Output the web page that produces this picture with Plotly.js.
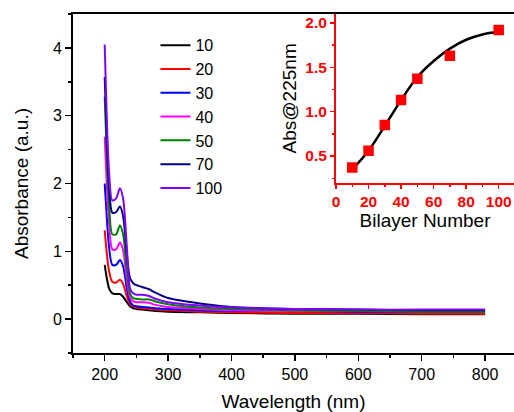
<!DOCTYPE html>
<html><head><meta charset="utf-8">
<script src="https://cdn.plot.ly/plotly-3.0.1.min.js"></script>
<style>html,body{margin:0;padding:0;background:#fff}#g{width:514px;height:412px}</style>
</head><body><div id="g"></div>
<script>
const wavelength = [200,203,207,212,218,224,229,235,240,245,250,260,270,280,300,350,400,500,600,700,800];
const abs10  = [0.80,0.62,0.45,0.38,0.37,0.37,0.33,0.25,0.19,0.16,0.15,0.14,0.13,0.12,0.11,0.10,0.09,0.08,0.08,0.07,0.07];
const abs20  = [1.31,1.00,0.70,0.55,0.54,0.58,0.52,0.33,0.22,0.18,0.17,0.16,0.15,0.14,0.13,0.11,0.10,0.09,0.09,0.08,0.08];
const abs30  = [2.00,1.55,1.05,0.80,0.80,0.87,0.78,0.45,0.26,0.20,0.19,0.18,0.17,0.16,0.15,0.13,0.12,0.12,0.11,0.11,0.11];
const abs40  = [2.69,2.05,1.40,1.03,1.03,1.13,1.02,0.58,0.32,0.26,0.25,0.25,0.24,0.21,0.18,0.15,0.13,0.12,0.12,0.12,0.12];
const abs50  = [3.28,2.50,1.70,1.25,1.25,1.38,1.25,0.72,0.38,0.31,0.30,0.29,0.29,0.26,0.22,0.17,0.15,0.13,0.12,0.11,0.11];
const abs70  = [3.57,2.75,1.95,1.57,1.58,1.66,1.52,0.95,0.60,0.53,0.50,0.47,0.44,0.39,0.31,0.23,0.18,0.15,0.14,0.13,0.13];
const abs100 = [4.05,3.05,2.15,1.75,1.78,1.93,1.78,1.05,0.45,0.38,0.36,0.36,0.34,0.30,0.25,0.20,0.17,0.15,0.14,0.14,0.14];
const seriesNames = ['10','20','30','40','50','70','100'];
const seriesColors = ['#000000','#ff0000','#0000ff','#ff00ff','#008000','#000080','#8000ff'];
const seriesData = [abs10,abs20,abs30,abs40,abs50,abs70,abs100];

const bilayer = [10,20,30,40,50,70,100];
const abs225 = [0.37,0.56,0.85,1.13,1.37,1.63,1.92];
const fitX = [10,20,30,40,50,60,70,80,90,100];
const fitY = [0.35,0.56,0.84,1.13,1.39,1.57,1.71,1.81,1.87,1.90];

const traces = seriesData.map((d,i)=>({
  x: wavelength, y: d, type:'scatter', mode:'lines', name: seriesNames[i],
  line:{color:seriesColors[i], width:2, shape:'spline', smoothing:0.8},
  xaxis:'x', yaxis:'y'
}));
traces.push({x:fitX, y:fitY, type:'scatter', mode:'lines', showlegend:false,
  line:{color:'#000', width:2.5, shape:'spline'}, xaxis:'x2', yaxis:'y2'});
traces.push({x:bilayer, y:abs225, type:'scatter', mode:'markers', showlegend:false,
  marker:{symbol:'square', size:10.5, color:'#ff0000'}, xaxis:'x2', yaxis:'y2'});

const F = 'Arial, "Liberation Sans", sans-serif';
const layout = {
  width:514, height:412,
  margin:{l:73, r:0, t:14, b:59},
  paper_bgcolor:'#fff', plot_bgcolor:'#fff',
  font:{family:F, color:'#000'},
  showlegend:true,
  legend:{x:0.187, y:0.958, xanchor:'left', yanchor:'top', font:{size:16, family:F}, bgcolor:'rgba(0,0,0,0)', tracegroupgap:0},
  xaxis:{domain:[0,1], range:[150,845.6], showgrid:false, zeroline:false,
    showline:true, linecolor:'#000', linewidth:2, mirror:true,
    ticks:'outside', ticklen:6, tickwidth:1.5, tickcolor:'#000', dtick:100, tick0:0,
    tickfont:{size:16, family:F},
    minor:{dtick:50, tick0:0, ticks:'outside', ticklen:3, tickwidth:1.5, tickcolor:'#000'},
    title:{text:'Wavelength (nm)', font:{size:19, family:F}, standoff:13}},
  yaxis:{domain:[0,1], range:[-0.5,4.5], showgrid:false, zeroline:false,
    showline:true, linecolor:'#000', linewidth:2,
    ticks:'outside', ticklen:6, tickwidth:1.5, tickcolor:'#000', dtick:1, tick0:0,
    tickfont:{size:16, family:F},
    minor:{dtick:0.5, tick0:0, ticks:'outside', ticklen:3, tickwidth:1.5, tickcolor:'#000'},
    title:{text:'Absorbance (a.u.)', font:{size:19, family:F}, standoff:19}},
  xaxis2:{domain:[0.5964,1], anchor:'y2', range:[0,109.4], showgrid:false, zeroline:false,
    showline:true, linecolor:'#ff0000', linewidth:2,
    ticks:'outside', ticklen:4, tickwidth:1.5, tickcolor:'#ff0000', dtick:20, tick0:0,
    tickfont:{size:15.5, family:F, color:'#ff0000', weight:'bold'},
    minor:{dtick:10, tick0:0, ticks:'outside', ticklen:2.5, tickwidth:1.5, tickcolor:'#ff0000'},
    title:{text:'Bilayer Number', font:{size:19, family:F, color:'#000'}, standoff:2}},
  yaxis2:{domain:[0.5024,1], anchor:'x2', range:[0.2,2.1], showgrid:false, zeroline:false,
    showline:true, linecolor:'#ff0000', linewidth:2,
    ticks:'outside', ticklen:4, tickwidth:1.5, tickcolor:'#ff0000', dtick:0.5, tick0:0,
    tickformat:'.1f',
    tickfont:{size:15.5, family:F, color:'#ff0000', weight:'bold'},
    minor:{dtick:0.25, tick0:0, ticks:'outside', ticklen:2.5, tickwidth:1.5, tickcolor:'#ff0000'},
    title:{text:'Abs@225nm', font:{size:19, family:F, color:'#000'}, standoff:4}}
};
Plotly.newPlot('g', traces, layout, {displayModeBar:false, staticPlot:true});
</script></body></html>
